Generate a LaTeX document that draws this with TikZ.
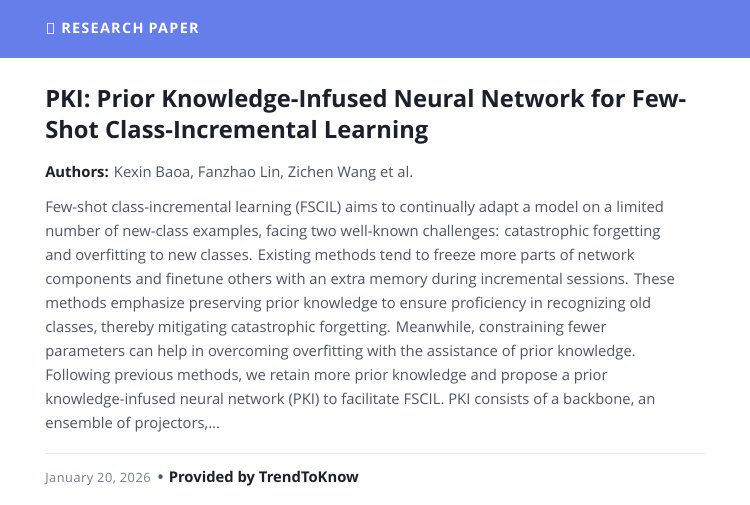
\documentclass[tikz,border=0pt]{standalone}
\usepackage{fontspec}
\setmainfont{Open Sans}
\definecolor{headblue}{HTML}{667EEA}
\definecolor{titleink}{HTML}{1A202C}
\definecolor{bodyink}{HTML}{4A5568}
\definecolor{dateink}{HTML}{718096}
\definecolor{ruleink}{HTML}{E2E8F0}
\tikzset{
  bodyline/.style={anchor=base west,inner sep=0pt,text=bodyink,font=\fontsize{11.1}{13}\selectfont},
  titleline/.style={anchor=base west,inner sep=0pt,text=titleink,font=\fontsize{17.8}{21}\selectfont\bfseries}
}
\begin{document}
\begin{tikzpicture}[x=0.75pt,y=-0.75pt]
\useasboundingbox (0,0) rectangle (750,505);
\fill[white] (0,0) rectangle (750,505);
\fill[headblue] (0,0) rectangle (750,58);
% header
\draw[white!80!headblue,line width=0.6pt] (47,23) rectangle (53,33);
\node[anchor=base west,inner sep=0pt,text=white,font=\fontsize{10.8}{12}\selectfont\bfseries\addfontfeature{LetterSpace=9}] (head) at (61,34) {RESEARCH PAPER};
% title
\node[titleline] (title1) at (45,108) {PKI: Prior Knowledge-Infused Neural Network for Few-};
\node[titleline] (title2) at (45,139) {Shot Class-Incremental Learning};
\node[bodyline,text=bodyink] (authors) at (45,178) {\textcolor{titleink}{\bfseries Authors:} Kexin Baoa, Fanzhao Lin, Zichen Wang et al.};
% abstract
\foreach \n/\txt in {0/{Few-shot class-incremental learning (FSCIL) aims to continually adapt a model on a limited},
  1/{number of new-class examples, facing two well-known challenges: catastrophic forgetting},
  2/{and overfitting to new classes. Existing methods tend to freeze more parts of network},
  3/{components and finetune others with an extra memory during incremental sessions. These},
  4/{methods emphasize preserving prior knowledge to ensure proficiency in recognizing old},
  5/{classes, thereby mitigating catastrophic forgetting. Meanwhile, constraining fewer},
  6/{parameters can help in overcoming overfitting with the assistance of prior knowledge.},
  7/{Following previous methods, we retain more prior knowledge and propose a prior},
  8/{knowledge-infused neural network (PKI) to facilitate FSCIL. PKI consists of a backbone, an},
  9/{ensemble of projectors,...}}
  \node[bodyline] (abs\n) at (45,213+24*\n) {\txt};
% footer
\draw[ruleink] (45,453) -- (705,453);
\node[anchor=base west,inner sep=0pt,text=dateink,font=\fontsize{9.6}{11}\selectfont\addfontfeature{LetterSpace=4}] (date) at (45,483) {January 20, 2026};
\node[anchor=base west,inner sep=0pt,text=titleink,font=\fontsize{11.1}{13}\selectfont\bfseries,xshift=5pt] (source) at (date.base east) {\textcolor{bodyink}{\textbullet}\hspace{4pt}Provided by TrendToKnow};
\end{tikzpicture}
\end{document}
